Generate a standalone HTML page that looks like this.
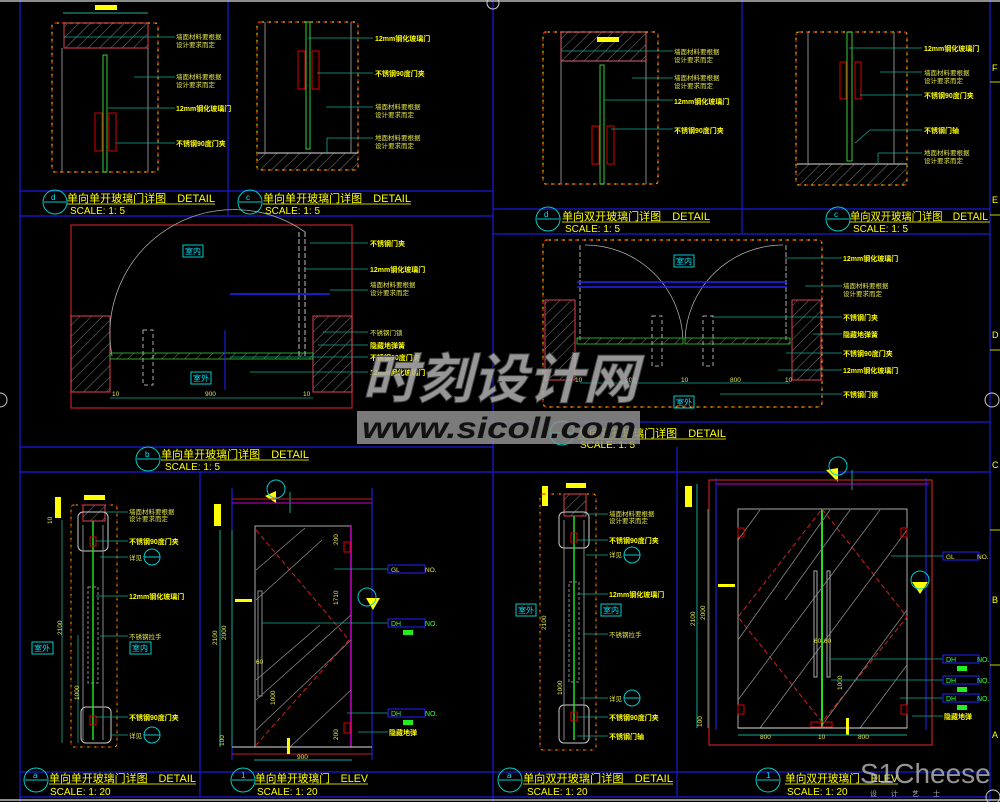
<!DOCTYPE html>
<html><head><meta charset="utf-8"><style>
html,body{margin:0;padding:0;background:#000;}
svg{display:block;}
text{font-family:"Liberation Sans","Noto Sans CJK SC",sans-serif;}
.y{fill:#ffff00;font-size:7px;font-weight:bold;}
.yl{fill:#e6e64a;font-size:6.5px;}
.t{fill:#ffff00;font-size:11px;}
.s{fill:#ffff00;font-size:10px;}
.c{fill:#00e5ff;font-size:8px;}
.g{fill:#33ff33;font-size:7px;}
</style></head><body>
<svg width="1000" height="802" viewBox="0 0 1000 802" xmlns="http://www.w3.org/2000/svg">
<defs>
<pattern id="h" width="8" height="8" patternUnits="userSpaceOnUse" patternTransform="rotate(45)">
<line x1="0" y1="0" x2="0" y2="8" stroke="#9a9a9a" stroke-width="0.8"/></pattern>
</defs>
<rect width="1000" height="802" fill="#000"/>
<g stroke="#1a1ad8" stroke-width="1.2" fill="none">
<line x1="20" y1="0" x2="20" y2="802"/>
<line x1="990" y1="0" x2="990" y2="802"/>
<line x1="228" y1="0" x2="228" y2="216"/>
<line x1="493" y1="0" x2="493" y2="802"/>
<line x1="742" y1="0" x2="742" y2="234"/>
<line x1="20" y1="191" x2="493" y2="191"/>
<line x1="20" y1="216" x2="493" y2="216"/>
<line x1="493" y1="209" x2="990" y2="209"/>
<line x1="493" y1="234" x2="990" y2="234"/>
<line x1="20" y1="447" x2="493" y2="447"/>
<line x1="493" y1="422" x2="990" y2="422"/>
<line x1="20" y1="472" x2="990" y2="472"/>
<line x1="200" y1="472" x2="200" y2="797"/>
<line x1="677" y1="447" x2="677" y2="797"/>
<line x1="20" y1="772" x2="990" y2="772"/>
<line x1="20" y1="797" x2="990" y2="797"/>
</g>
<line x1="0" y1="1" x2="1000" y2="1" stroke="#bbb" stroke-width="1.5"/>
<line x1="0" y1="800" x2="1000" y2="800" stroke="#bbb" stroke-width="1.5"/>
<line x1="990" y1="82" x2="1000" y2="82" stroke="#cc0"/>
<line x1="990" y1="215" x2="1000" y2="215" stroke="#cc0"/>
<line x1="990" y1="350" x2="1000" y2="350" stroke="#cc0"/>
<line x1="990" y1="530" x2="1000" y2="530" stroke="#cc0"/>
<line x1="990" y1="665" x2="1000" y2="665" stroke="#cc0"/>
<g fill="#ffff00" font-size="9"><text x="992" y="71">F</text><text x="992" y="203">E</text><text x="992" y="338">D</text><text x="992" y="468">C</text><text x="992" y="603">B</text><text x="992" y="738">A</text></g>
<circle cx="493" cy="3" r="6" fill="none" stroke="#ccc"/><circle cx="992" cy="400" r="7" fill="none" stroke="#ccc"/><circle cx="0" cy="400" r="7" fill="none" stroke="#ccc"/><circle cx="993" cy="797" r="7" fill="none" stroke="#ccc"/>

<!-- Panel d1 -->
<rect x="95" y="5" width="22" height="5" fill="#ffff00"/>
<line x1="63" y1="13" x2="148" y2="13" stroke="#2a9" />
<rect x="52" y="23" width="106" height="149" rx="3" fill="none" stroke="#cc0" stroke-width="1.2" stroke-dasharray="4 3"/>
<rect x="52" y="23" width="106" height="149" rx="3" fill="none" stroke="#c00" stroke-width="1.2" stroke-dasharray="2 5"/>
<rect x="64" y="23" width="84" height="25" fill="url(#h)" stroke="#e04050"/>
<line x1="62" y1="48" x2="62" y2="172" stroke="#888"/><line x1="148" y1="48" x2="148" y2="172" stroke="#888"/>
<rect x="103" y="55" width="4" height="117" fill="none" stroke="#3c3"/>
<rect x="95" y="113" width="7" height="38" fill="none" stroke="#d00"/><rect x="109" y="113" width="7" height="38" fill="none" stroke="#d00"/>
<g stroke="#1a9" stroke-width="0.8"><line x1="64" y1="37" x2="175" y2="37"/><line x1="134" y1="77" x2="175" y2="77"/><line x1="108" y1="108" x2="175" y2="108"/><line x1="116" y1="143" x2="175" y2="143"/></g>
<text class="yl" x="176" y="39">墙面材料要根据</text><text class="yl" x="176" y="47">设计要求而定</text>
<text class="yl" x="176" y="79">墙面材料要根据</text><text class="yl" x="176" y="87">设计要求而定</text>
<text class="y" x="176" y="111">12mm钢化玻璃门</text><text class="y" x="176" y="146">不锈钢90度门夹</text>
<circle cx="55" cy="202" r="12" fill="none" stroke="#0cc"/><line x1="44" y1="202" x2="66" y2="202" stroke="#0cc"/>
<text class="c" x="51" y="200">d</text>
<text class="t" x="67" y="202" textLength="148" lengthAdjust="spacingAndGlyphs">单向单开玻璃门详图　DETAIL</text><line x1="67" y1="204" x2="215" y2="204" stroke="#cc0"/>
<text class="s" x="70" y="214">SCALE: 1: 5</text>

<!-- Panel c1 -->
<rect x="257" y="22" width="101" height="148" rx="3" fill="none" stroke="#cc0" stroke-width="1.2" stroke-dasharray="4 3"/>
<rect x="257" y="22" width="101" height="148" rx="3" fill="none" stroke="#c00" stroke-width="1.2" stroke-dasharray="2 5"/>
<rect x="258" y="153" width="100" height="17" fill="url(#h)"/><line x1="258" y1="153" x2="358" y2="153" stroke="#ddd"/>
<line x1="265" y1="22" x2="265" y2="153" stroke="#888"/><line x1="351" y1="22" x2="351" y2="153" stroke="#888"/>
<rect x="306" y="22" width="4" height="127" fill="none" stroke="#3c3"/>
<rect x="298" y="51" width="7" height="38" fill="none" stroke="#d00"/><rect x="312" y="51" width="7" height="38" fill="none" stroke="#d00"/>
<g stroke="#1a9" stroke-width="0.8"><line x1="308" y1="38" x2="373" y2="38"/><line x1="317" y1="73" x2="373" y2="73"/><line x1="326" y1="107" x2="373" y2="107"/><line x1="327" y1="153" x2="327" y2="138"/><line x1="327" y1="138" x2="373" y2="138"/></g>
<text class="y" x="375" y="41">12mm钢化玻璃门</text><text class="y" x="375" y="76">不锈钢90度门夹</text>
<text class="yl" x="375" y="109">墙面材料要根据</text><text class="yl" x="375" y="117">设计要求而定</text>
<text class="yl" x="375" y="140">地面材料要根据</text><text class="yl" x="375" y="148">设计要求而定</text>
<circle cx="250" cy="202" r="12" fill="none" stroke="#0cc"/><line x1="239" y1="202" x2="261" y2="202" stroke="#0cc"/>
<text class="c" x="246" y="200">c</text>
<text class="t" x="263" y="202" textLength="148" lengthAdjust="spacingAndGlyphs">单向单开玻璃门详图　DETAIL</text><line x1="263" y1="204" x2="411" y2="204" stroke="#cc0"/>
<text class="s" x="265" y="214">SCALE: 1: 5</text>

<!-- Panel d2 -->
<rect x="543" y="32" width="115" height="152" rx="3" fill="none" stroke="#cc0" stroke-width="1.2" stroke-dasharray="4 3"/>
<rect x="543" y="32" width="115" height="152" rx="3" fill="none" stroke="#c00" stroke-width="1.2" stroke-dasharray="2 5"/>
<rect x="561" y="32" width="85" height="29" fill="url(#h)" stroke="#e06070"/>
<rect x="597" y="37" width="22" height="5" fill="#ffff00"/>
<line x1="561" y1="61" x2="561" y2="184" stroke="#888"/><line x1="646" y1="61" x2="646" y2="184" stroke="#888"/>
<rect x="600" y="65" width="4" height="119" fill="none" stroke="#3c3"/>
<rect x="592" y="126" width="7" height="38" fill="none" stroke="#d00"/><rect x="607" y="126" width="7" height="38" fill="none" stroke="#d00"/>
<g stroke="#1a9" stroke-width="0.8"><line x1="561" y1="51" x2="673" y2="51"/><line x1="632" y1="78" x2="673" y2="78"/><line x1="604" y1="100" x2="673" y2="100"/><line x1="611" y1="129" x2="673" y2="129"/></g>
<text class="yl" x="674" y="54">墙面材料要根据</text><text class="yl" x="674" y="62">设计要求而定</text>
<text class="yl" x="674" y="80">墙面材料要根据</text><text class="yl" x="674" y="88">设计要求而定</text>
<text class="y" x="674" y="104">12mm钢化玻璃门</text><text class="y" x="674" y="133">不锈钢90度门夹</text>
<circle cx="548" cy="219" r="12" fill="none" stroke="#0cc"/><line x1="537" y1="219" x2="559" y2="219" stroke="#0cc"/>
<text class="c" x="544" y="217">d</text>
<text class="t" x="562" y="220" textLength="148" lengthAdjust="spacingAndGlyphs">单向双开玻璃门详图　DETAIL</text><line x1="562" y1="222" x2="710" y2="222" stroke="#cc0"/>
<text class="s" x="565" y="232">SCALE: 1: 5</text>

<!-- Panel c2 -->
<rect x="796" y="32" width="111" height="153" rx="3" fill="none" stroke="#cc0" stroke-width="1.2" stroke-dasharray="4 3"/>
<rect x="796" y="32" width="111" height="153" rx="3" fill="none" stroke="#c00" stroke-width="1.2" stroke-dasharray="2 5"/>
<rect x="797" y="164" width="110" height="21" fill="url(#h)"/><line x1="797" y1="164" x2="907" y2="164" stroke="#ddd"/>
<line x1="808" y1="32" x2="808" y2="164" stroke="#888"/><line x1="894" y1="32" x2="894" y2="164" stroke="#888"/>
<rect x="847" y="32" width="5" height="129" fill="none" stroke="#3c3"/>
<rect x="840" y="62" width="6" height="37" fill="none" stroke="#d00"/><rect x="855" y="62" width="6" height="37" fill="none" stroke="#d00"/>
<g stroke="#1a9" stroke-width="0.8"><line x1="849" y1="48" x2="922" y2="48"/><line x1="880" y1="72" x2="922" y2="72"/><line x1="860" y1="95" x2="922" y2="95"/><line x1="855" y1="143" x2="870" y2="130"/><line x1="870" y1="130" x2="922" y2="130"/><line x1="878" y1="164" x2="878" y2="153"/><line x1="878" y1="153" x2="922" y2="153"/></g>
<text class="y" x="924" y="51">12mm钢化玻璃门</text>
<text class="yl" x="924" y="75">墙面材料要根据</text><text class="yl" x="924" y="83">设计要求而定</text>
<text class="y" x="924" y="98">不锈钢90度门夹</text><text class="y" x="924" y="133">不锈钢门轴</text>
<text class="yl" x="924" y="155">地面材料要根据</text><text class="yl" x="924" y="163">设计要求而定</text>
<circle cx="838" cy="219" r="12" fill="none" stroke="#0cc"/><line x1="827" y1="219" x2="849" y2="219" stroke="#0cc"/>
<text class="c" x="834" y="217">c</text>
<text class="t" x="850" y="220" textLength="138" lengthAdjust="spacingAndGlyphs">单向双开玻璃门详图　DETAIL</text><line x1="850" y1="222" x2="990" y2="222" stroke="#cc0"/>
<text class="s" x="853" y="232">SCALE: 1: 5</text>

<!-- Panel b1 -->
<rect x="71" y="225" width="281" height="183" fill="none" stroke="#c02020" stroke-width="1.2"/>
<rect x="71" y="316" width="39" height="76" fill="url(#h)" stroke="#e04050"/>
<rect x="313" y="316" width="39" height="76" fill="url(#h)" stroke="#e04050"/>
<path d="M305 232 A124 124 0 0 0 112 356" fill="none" stroke="#aaa" stroke-width="0.8"/>
<rect x="110" y="353" width="203" height="6" fill="url(#h)" stroke="#3c3" stroke-width="0.8"/>
<line x1="305" y1="232" x2="305" y2="356" stroke="#bbb" stroke-dasharray="5 2"/>
<line x1="299" y1="232" x2="299" y2="356" stroke="#bbb" stroke-dasharray="5 2"/>
<line x1="230" y1="294" x2="330" y2="294" stroke="#22f" stroke-width="1.5"/>
<line x1="225" y1="330" x2="225" y2="390" stroke="#22f"/>
<rect x="143" y="330" width="10" height="55" fill="none" stroke="#aaa" stroke-dasharray="4 3"/>
<text class="c" x="185" y="254">室内</text><rect x="183" y="245" width="20" height="12" fill="none" stroke="#0cc"/>
<text class="c" x="193" y="381">室外</text><rect x="191" y="372" width="20" height="12" fill="none" stroke="#0cc"/>
<g stroke="#1a9" stroke-width="0.8"><line x1="310" y1="243" x2="368" y2="243"/><line x1="306" y1="269" x2="368" y2="269"/><line x1="330" y1="290" x2="368" y2="290"/><line x1="323" y1="332" x2="368" y2="332"/><line x1="318" y1="345" x2="368" y2="345"/><line x1="230" y1="357" x2="368" y2="357"/><line x1="250" y1="372" x2="368" y2="372"/><line x1="110" y1="398" x2="313" y2="398"/></g>
<text class="y" x="370" y="246">不锈钢门夹</text><text class="y" x="370" y="272">12mm钢化玻璃门</text>
<text class="yl" x="370" y="287">墙面材料要根据</text><text class="yl" x="370" y="295">设计要求而定</text>
<text class="yl" x="370" y="335">不锈钢门锁</text><text class="y" x="370" y="348">隐藏地弹簧</text>
<text class="y" x="370" y="360">不锈钢90度门夹</text><text class="y" x="370" y="375">12mm钢化玻璃门</text>
<text class="yl" x="112" y="396">10</text><text class="yl" x="205" y="396">900</text><text class="yl" x="303" y="396">10</text>
<circle cx="148" cy="459" r="12" fill="none" stroke="#0cc"/><line x1="137" y1="459" x2="159" y2="459" stroke="#0cc"/>
<text class="c" x="145" y="457">b</text>
<text class="t" x="161" y="458" textLength="148" lengthAdjust="spacingAndGlyphs">单向单开玻璃门详图　DETAIL</text><line x1="161" y1="460" x2="309" y2="460" stroke="#cc0"/>
<text class="s" x="165" y="470">SCALE: 1: 5</text>

<!-- Panel b2 -->
<rect x="543" y="240" width="279" height="167" rx="4" fill="none" stroke="#cc0" stroke-width="1.2" stroke-dasharray="4 3"/>
<rect x="543" y="240" width="279" height="167" rx="4" fill="none" stroke="#c00" stroke-width="1.2" stroke-dasharray="2 5"/>
<rect x="545" y="300" width="30" height="80" fill="url(#h)" stroke="#e04050"/>
<rect x="792" y="300" width="29" height="80" fill="url(#h)" stroke="#e04050"/>
<path d="M585 245 A98 98 0 0 1 683 340" fill="none" stroke="#aaa" stroke-width="0.8"/>
<path d="M783 245 A98 98 0 0 0 685 340" fill="none" stroke="#aaa" stroke-width="0.8"/>
<line x1="580" y1="245" x2="580" y2="340" stroke="#aaa" stroke-dasharray="5 2"/><line x1="786" y1="245" x2="786" y2="340" stroke="#aaa" stroke-dasharray="5 2"/>
<line x1="577" y1="282" x2="787" y2="282" stroke="#22f" stroke-width="1.5"/>
<line x1="577" y1="287" x2="787" y2="287" stroke="#22f" stroke-width="1.5"/>
<rect x="577" y="338" width="106" height="6" fill="url(#h)" stroke="#3c3" stroke-width="0.8"/>
<rect x="685" y="338" width="105" height="6" fill="url(#h)" stroke="#3c3" stroke-width="0.8"/>
<rect x="652" y="316" width="10" height="50" fill="none" stroke="#aaa" stroke-dasharray="4 3"/>
<rect x="703" y="316" width="10" height="50" fill="none" stroke="#aaa" stroke-dasharray="4 3"/>
<text class="c" x="676" y="264">室内</text><rect x="674" y="255" width="20" height="12" fill="none" stroke="#0cc"/>
<text class="c" x="676" y="405">室外</text><rect x="674" y="396" width="20" height="12" fill="none" stroke="#0cc"/>
<g stroke="#1a9" stroke-width="0.8"><line x1="785" y1="258" x2="842" y2="258"/><line x1="805" y1="286" x2="842" y2="286"/><line x1="712" y1="317" x2="842" y2="317"/><line x1="813" y1="334" x2="842" y2="334"/><line x1="786" y1="353" x2="842" y2="353"/><line x1="778" y1="370" x2="842" y2="370"/><line x1="720" y1="394" x2="842" y2="394"/><line x1="580" y1="383" x2="790" y2="383"/></g>
<text class="y" x="843" y="261">12mm钢化玻璃门</text>
<text class="yl" x="843" y="288">墙面材料要根据</text><text class="yl" x="843" y="296">设计要求而定</text>
<text class="y" x="843" y="320">不锈钢门夹</text><text class="y" x="843" y="337">隐藏地弹簧</text>
<text class="y" x="843" y="356">不锈钢90度门夹</text><text class="y" x="843" y="373">12mm钢化玻璃门</text><text class="y" x="843" y="397">不锈钢门锁</text>
<text class="yl" x="575" y="382">10</text><text class="yl" x="625" y="382">800</text><text class="yl" x="681" y="382">10</text><text class="yl" x="730" y="382">800</text><text class="yl" x="785" y="382">10</text>
<circle cx="562" cy="433" r="12" fill="none" stroke="#0cc"/><line x1="551" y1="433" x2="573" y2="433" stroke="#0cc"/>
<text class="t" x="578" y="437" textLength="148" lengthAdjust="spacingAndGlyphs">单向双开玻璃门详图　DETAIL</text><line x1="578" y1="439" x2="726" y2="439" stroke="#cc0"/>
<text class="s" x="580" y="448">SCALE: 1: 5</text>

<!-- Panel a1 -->
<rect x="84" y="495" width="21" height="5" fill="#ffff00"/><rect x="55" y="497" width="6" height="21" fill="#ffff00"/>
<rect x="71" y="505" width="46" height="242" rx="3" fill="none" stroke="#cc0" stroke-dasharray="4 3"/>
<rect x="71" y="505" width="46" height="242" rx="3" fill="none" stroke="#c00" stroke-dasharray="2 5"/>
<rect x="83" y="505" width="22" height="16" fill="url(#h)" stroke="#e04050"/>
<rect x="78" y="512" width="30" height="39" rx="5" fill="none" stroke="#ccc"/>
<rect x="81" y="707" width="30" height="36" rx="5" fill="none" stroke="#ccc"/>
<line x1="83" y1="525" x2="83" y2="740" stroke="#888"/><line x1="103" y1="525" x2="103" y2="740" stroke="#888"/>
<line x1="93" y1="521" x2="93" y2="740" stroke="#2d2" stroke-width="1.5"/>
<rect x="88" y="587" width="10" height="96" fill="none" stroke="#888" stroke-dasharray="3 2"/>
<rect x="90" y="537" width="6" height="9" fill="none" stroke="#d00"/><rect x="90" y="716" width="6" height="9" fill="none" stroke="#d00"/>
<g stroke="#1a9" stroke-width="0.8"><line x1="105" y1="512" x2="128" y2="512"/><line x1="96" y1="541" x2="128" y2="541"/><line x1="100" y1="557" x2="128" y2="557"/><line x1="96" y1="596" x2="128" y2="596"/><line x1="100" y1="636" x2="128" y2="636"/><line x1="96" y1="717" x2="128" y2="717"/><line x1="110" y1="735" x2="128" y2="735"/><line x1="62" y1="520" x2="62" y2="743" stroke="#2a9"/><line x1="78" y1="635" x2="78" y2="743"/></g>
<text class="yl" x="129" y="514">墙面材料要根据</text><text class="yl" x="129" y="521">设计要求而定</text>
<text class="y" x="129" y="544">不锈钢90度门夹</text><text class="yl" x="129" y="560">详见</text>
<circle cx="152" cy="557" r="8" fill="none" stroke="#0cc"/><line x1="144" y1="557" x2="160" y2="557" stroke="#0cc"/>
<text class="y" x="129" y="599">12mm钢化玻璃门</text><text class="yl" x="129" y="639">不锈钢拉手</text>
<text class="y" x="129" y="720">不锈钢90度门夹</text><text class="yl" x="129" y="738">详见</text>
<circle cx="152" cy="735" r="8" fill="none" stroke="#0cc"/><line x1="144" y1="735" x2="160" y2="735" stroke="#0cc"/>
<rect x="32" y="642" width="21" height="12" fill="none" stroke="#0cc"/><text class="c" x="34" y="651">室外</text>
<rect x="130" y="642" width="21" height="12" fill="none" stroke="#0cc"/><text class="c" x="132" y="651">室内</text>
<text class="yl" transform="translate(62,635) rotate(-90)">2100</text>
<text class="yl" transform="translate(79,700) rotate(-90)">1000</text>
<text class="yl" transform="translate(52,524) rotate(-90)">10</text>
<circle cx="36" cy="780" r="12" fill="none" stroke="#0cc"/><line x1="25" y1="780" x2="47" y2="780" stroke="#0cc"/>
<text class="c" x="33" y="778">a</text>
<text class="t" x="49" y="782" textLength="147" lengthAdjust="spacingAndGlyphs">单向单开玻璃门详图　DETAIL</text><line x1="49" y1="784" x2="196" y2="784" stroke="#cc0"/>
<text class="s" x="50" y="795">SCALE: 1: 20</text>

<!-- Elev 1 -->
<rect x="214" y="504" width="7" height="22" fill="#ffff00"/>
<polygon points="276,491 265,496 276,503" fill="#ffff00"/><circle cx="276" cy="489" r="9" fill="none" stroke="#0cc"/>
<line x1="290" y1="492" x2="290" y2="513" stroke="#1a9"/>
<line x1="232" y1="499" x2="372" y2="499" stroke="#c02020"/><line x1="232" y1="503" x2="372" y2="503" stroke="#c0c"/>
<line x1="232" y1="488" x2="232" y2="760" stroke="#22f"/><line x1="372" y1="488" x2="372" y2="760" stroke="#22f"/>
<rect x="255" y="526" width="96" height="221" fill="none" stroke="#aaa"/>
<line x1="351" y1="526" x2="351" y2="747" stroke="#c0c" stroke-width="1.5"/>
<path d="M256 530 L349 640 L256 745" fill="none" stroke="#c22" stroke-dasharray="5 3"/>
<g stroke="#888" stroke-width="0.8"><line x1="256" y1="570" x2="305" y2="528"/><line x1="256" y1="600" x2="322" y2="540"/><line x1="256" y1="700" x2="351" y2="615"/><line x1="256" y1="730" x2="351" y2="640"/><line x1="290" y1="747" x2="351" y2="690"/><line x1="256" y1="680" x2="320" y2="625"/></g>
<rect x="258" y="591" width="4" height="105" fill="none" stroke="#888"/>
<rect x="235" y="599" width="17" height="3" fill="#ffff00"/>
<rect x="344" y="542" width="6" height="10" fill="none" stroke="#d00"/><rect x="344" y="723" width="6" height="10" fill="none" stroke="#d00"/>
<line x1="232" y1="747" x2="372" y2="747" stroke="#ddd"/><line x1="232" y1="754" x2="372" y2="754" stroke="#c02020"/>
<rect x="287" y="738" width="3" height="16" fill="#ffff00"/>
<line x1="254" y1="760" x2="352" y2="760" stroke="#1a9"/><text class="yl" x="297" y="759">900</text>
<line x1="220" y1="530" x2="220" y2="747" stroke="#1a9"/><line x1="232" y1="530" x2="232" y2="747" stroke="#1a9"/>
<text class="yl" transform="translate(217,645) rotate(-90)">2100</text><text class="yl" transform="translate(226,640) rotate(-90)">2000</text>
<text class="yl" transform="translate(224,746) rotate(-90)">100</text><text class="yl" transform="translate(275,705) rotate(-90)">1000</text>
<text class="yl" transform="translate(338,605) rotate(-90)">1710</text><text class="yl" transform="translate(338,545) rotate(-90)">200</text><text class="yl" transform="translate(338,740) rotate(-90)">200</text>
<text class="yl" x="256" y="664">60</text>
<g stroke="#1a9" stroke-width="0.8"><line x1="334" y1="569" x2="388" y2="569"/><line x1="262" y1="623" x2="388" y2="623"/><line x1="347" y1="713" x2="388" y2="713"/><line x1="358" y1="732" x2="388" y2="732"/></g>
<rect x="388" y="565" width="37" height="8" fill="none" stroke="#22f"/><text class="yl" x="391" y="572">GL</text><text class="yl" x="425" y="572">NO.</text>
<rect x="388" y="619" width="37" height="8" fill="none" stroke="#22f"/><text class="g" x="391" y="626">DH</text><text class="g" x="425" y="626">NO.</text><rect x="403" y="630" width="10" height="5" fill="#2e2"/>
<rect x="388" y="709" width="37" height="8" fill="none" stroke="#22f"/><text class="g" x="391" y="716">DH</text><text class="g" x="425" y="716">NO.</text><rect x="403" y="720" width="10" height="5" fill="#2e2"/>
<text class="y" x="389" y="735">隐藏地弹</text>
<polygon points="366,598 380,598 373,610" fill="#ffff00"/><circle cx="367" cy="597" r="9" fill="none" stroke="#0cc"/>
<circle cx="243" cy="780" r="12" fill="none" stroke="#0cc"/><line x1="232" y1="780" x2="254" y2="780" stroke="#0cc"/>
<text class="c" x="241" y="778">1</text>
<text class="t" x="255" y="782" textLength="113" lengthAdjust="spacingAndGlyphs">单向单开玻璃门　ELEV</text><line x1="255" y1="784" x2="368" y2="784" stroke="#cc0"/>
<text class="s" x="257" y="795">SCALE: 1: 20</text>

<!-- Panel a2 -->
<rect x="566" y="483" width="20" height="5" fill="#ffff00"/><rect x="542" y="486" width="6" height="20" fill="#ffff00"/>
<rect x="540" y="494" width="56" height="256" rx="3" fill="none" stroke="#cc0" stroke-dasharray="4 3"/>
<rect x="540" y="494" width="56" height="256" rx="3" fill="none" stroke="#c00" stroke-dasharray="2 5"/>
<rect x="564" y="494" width="22" height="22" fill="url(#h)" stroke="#e04050"/>
<rect x="559" y="512" width="30" height="36" rx="5" fill="none" stroke="#ccc"/>
<rect x="559" y="705" width="30" height="38" rx="5" fill="none" stroke="#ccc"/>
<line x1="564" y1="520" x2="564" y2="740" stroke="#888"/><line x1="584" y1="520" x2="584" y2="740" stroke="#888"/>
<line x1="574" y1="516" x2="574" y2="740" stroke="#2d2" stroke-width="1.5"/>
<rect x="569" y="582" width="10" height="100" fill="none" stroke="#888" stroke-dasharray="3 2"/>
<rect x="571" y="533" width="6" height="9" fill="none" stroke="#d00"/><rect x="571" y="712" width="6" height="9" fill="none" stroke="#d00"/>
<g stroke="#1a9" stroke-width="0.8"><line x1="586" y1="514" x2="608" y2="514"/><line x1="577" y1="540" x2="608" y2="540"/><line x1="586" y1="555" x2="608" y2="555"/><line x1="577" y1="594" x2="608" y2="594"/><line x1="583" y1="634" x2="608" y2="634"/><line x1="580" y1="698" x2="608" y2="698"/><line x1="577" y1="717" x2="608" y2="717"/><line x1="577" y1="736" x2="608" y2="736"/></g>
<text class="yl" x="609" y="516">墙面材料要根据</text><text class="yl" x="609" y="523">设计要求而定</text>
<text class="y" x="609" y="543">不锈钢90度门夹</text><text class="yl" x="609" y="557">详见</text>
<circle cx="632" cy="555" r="8" fill="none" stroke="#0cc"/><line x1="624" y1="555" x2="640" y2="555" stroke="#0cc"/>
<text class="y" x="609" y="597">12mm钢化玻璃门</text><text class="yl" x="609" y="637">不锈钢拉手</text>
<text class="yl" x="609" y="701">详见</text><circle cx="632" cy="698" r="8" fill="none" stroke="#0cc"/><line x1="624" y1="698" x2="640" y2="698" stroke="#0cc"/>
<text class="y" x="609" y="720">不锈钢90度门夹</text><text class="y" x="609" y="739">不锈钢门轴</text>
<rect x="516" y="604" width="20" height="12" fill="none" stroke="#0cc"/><text class="c" x="518" y="613">室外</text>
<rect x="601" y="604" width="20" height="12" fill="none" stroke="#0cc"/><text class="c" x="603" y="613">室内</text>
<text class="yl" transform="translate(546,630) rotate(-90)">2100</text><text class="yl" transform="translate(562,695) rotate(-90)">1000</text>
<circle cx="510" cy="780" r="12" fill="none" stroke="#0cc"/><line x1="499" y1="780" x2="521" y2="780" stroke="#0cc"/>
<text class="c" x="507" y="778">a</text>
<text class="t" x="523" y="782" textLength="150" lengthAdjust="spacingAndGlyphs">单向双开玻璃门详图　DETAIL</text><line x1="523" y1="784" x2="673" y2="784" stroke="#cc0"/>
<text class="s" x="527" y="795">SCALE: 1: 20</text>

<!-- Elev 2 -->
<rect x="685" y="486" width="7" height="21" fill="#ffff00"/>
<polygon points="838,468 826,470 838,482" fill="#ffff00"/><circle cx="838" cy="466" r="9" fill="none" stroke="#0cc"/>
<line x1="852" y1="470" x2="852" y2="490" stroke="#1a9"/>
<rect x="709" y="480" width="223" height="265" fill="none" stroke="#c02020" stroke-width="1.2"/>
<line x1="716" y1="484" x2="929" y2="484" stroke="#c0c"/>
<line x1="716" y1="478" x2="716" y2="730" stroke="#22f"/><line x1="926" y1="478" x2="926" y2="730" stroke="#22f"/>
<rect x="738" y="509" width="169" height="219" fill="none" stroke="#aaa"/>
<line x1="822" y1="509" x2="822" y2="728" stroke="#2d2" stroke-width="2"/>
<path d="M822 509 L907 617 L822 722 L738 617 Z" fill="none" stroke="#c22" stroke-dasharray="5 3"/>
<g stroke="#888" stroke-width="0.8"><line x1="738" y1="540" x2="760" y2="510"/><line x1="738" y1="640" x2="830" y2="510"/><line x1="738" y1="700" x2="880" y2="510"/><line x1="760" y1="728" x2="907" y2="530"/><line x1="820" y1="728" x2="907" y2="610"/><line x1="860" y1="728" x2="907" y2="665"/><line x1="785" y1="600" x2="850" y2="510"/></g>
<rect x="814" y="571" width="3" height="106" fill="none" stroke="#aaa"/><rect x="827" y="571" width="3" height="106" fill="none" stroke="#aaa"/>
<rect x="738" y="528" width="6" height="9" fill="none" stroke="#d00"/><rect x="901" y="528" width="6" height="9" fill="none" stroke="#d00"/>
<rect x="738" y="705" width="6" height="9" fill="none" stroke="#d00"/><rect x="901" y="705" width="6" height="9" fill="none" stroke="#d00"/>
<rect x="811" y="722" width="21" height="5" fill="none" stroke="#d00"/>
<rect x="718" y="584" width="17" height="3" fill="#ffff00"/>
<rect x="846" y="718" width="3" height="17" fill="#ffff00"/>
<line x1="738" y1="728" x2="907" y2="728" stroke="#ddd"/>
<line x1="738" y1="735" x2="907" y2="735" stroke="#1a9"/>
<text class="yl" x="760" y="739">800</text><text class="yl" x="818" y="739">10</text><text class="yl" x="858" y="739">800</text>
<text class="yl" x="814" y="643">60</text><text class="yl" x="824" y="643">60</text>
<line x1="697" y1="484" x2="697" y2="728" stroke="#1a9"/><line x1="708" y1="509" x2="708" y2="728" stroke="#1a9"/>
<text class="yl" transform="translate(695,626) rotate(-90)">2100</text><text class="yl" transform="translate(705,620) rotate(-90)">2000</text>
<text class="yl" transform="translate(702,727) rotate(-90)">100</text><text class="yl" transform="translate(842,690) rotate(-90)">1000</text>
<g stroke="#1a9" stroke-width="0.8"><line x1="891" y1="556" x2="943" y2="556"/><line x1="829" y1="659" x2="943" y2="659"/><line x1="831" y1="680" x2="943" y2="680"/><line x1="900" y1="698" x2="943" y2="698"/><line x1="912" y1="716" x2="943" y2="716"/></g>
<rect x="943" y="552" width="36" height="8" fill="none" stroke="#22f"/><text class="yl" x="946" y="559">GL</text><text class="yl" x="977" y="559">NO.</text>
<rect x="943" y="655" width="36" height="8" fill="none" stroke="#22f"/><text class="g" x="946" y="662">DH</text><text class="g" x="977" y="662">NO.</text><rect x="957" y="666" width="10" height="5" fill="#2e2"/>
<rect x="943" y="676" width="36" height="8" fill="none" stroke="#22f"/><text class="g" x="946" y="683">DH</text><text class="g" x="977" y="683">NO.</text><rect x="957" y="687" width="10" height="5" fill="#2e2"/>
<rect x="943" y="694" width="36" height="8" fill="none" stroke="#22f"/><text class="g" x="946" y="701">DH</text><text class="g" x="977" y="701">NO.</text><rect x="957" y="705" width="10" height="5" fill="#2e2"/>
<text class="y" x="944" y="719">隐藏地弹</text>
<polygon points="912,582 928,582 920,594" fill="#ffff00"/><circle cx="920" cy="580" r="9" fill="none" stroke="#0cc"/>
<circle cx="768" cy="780" r="12" fill="none" stroke="#0cc"/><line x1="757" y1="780" x2="779" y2="780" stroke="#0cc"/>
<text class="c" x="766" y="778">1</text>
<text class="t" x="785" y="782" textLength="113" lengthAdjust="spacingAndGlyphs">单向双开玻璃门　ELEV</text><line x1="785" y1="784" x2="898" y2="784" stroke="#cc0"/>
<text class="s" x="787" y="795">SCALE: 1: 20</text>

<!-- watermarks -->
<text x="362" y="398" font-size="54" font-weight="bold" font-style="italic" fill="#b0b0b0" fill-opacity="0.85" stroke="#444" stroke-width="1" textLength="276" lengthAdjust="spacingAndGlyphs">时刻设计网</text>
<rect x="357" y="411" width="283" height="33" fill="#8f8f8f" opacity="0.85"/>
<text x="362" y="438" font-size="30" font-weight="bold" font-style="italic" fill="#111" textLength="274" lengthAdjust="spacingAndGlyphs">www.sicoll.com</text>
<text x="860" y="783" font-size="28" fill="#bbb" opacity="0.8">S1Cheese</text>
<text x="870" y="796" font-size="7" fill="#aaa">设　　计　　艺　　士</text>
</svg>
</body></html>
